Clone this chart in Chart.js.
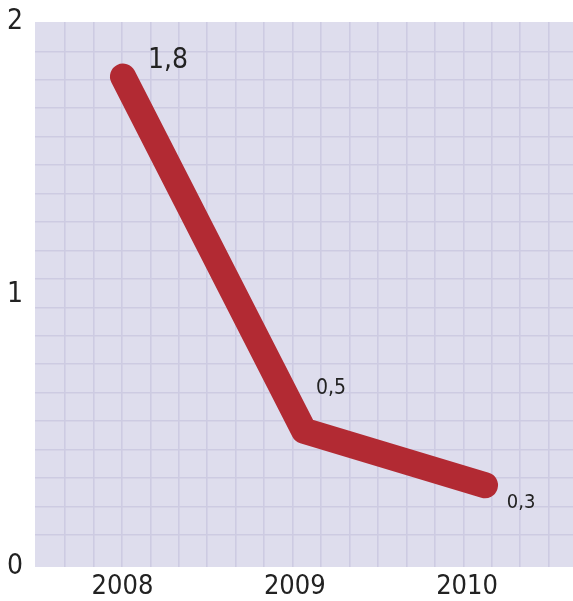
<!DOCTYPE html>
<html>
<head>
<meta charset="utf-8">
<style>
  html, body { margin: 0; padding: 0; background: #ffffff; }
  canvas { display: block; }
</style>
<script src="https://cdn.jsdelivr.net/npm/chart.js@4/dist/chart.umd.min.js"></script>
</head>
<body>
<canvas id="chart" width="573" height="601"></canvas>
<script>
// Data
const years = [2008, 2009, 2010];
const values = [1.8, 0.5, 0.3];
const yTickValues = [0, 1, 2];

// Styling
const FONT = "'Liberation Sans Narrow', 'DejaVu Sans Condensed', 'Roboto', sans-serif";
const TEXT = '#222222';
const LINE_RED = '#b22a33';
const PLOT_BG = '#dedded';
const GRID = '#cdcbe2';
const CELL = 28.45;             // size of one background grid cell, px
const labelOffsets = [[45, -16], [27, -42], [36, 18]];
const labelSizes = [28, 21, 20];

const plotBackground = {
  id: 'plotBackground',
  beforeDraw(chart) {
    const { ctx, chartArea: a } = chart;
    ctx.save();
    ctx.fillStyle = PLOT_BG;
    ctx.fillRect(a.left, a.top, a.right - a.left, a.bottom - a.top);
    ctx.restore();
  }
};

const valueLabels = {
  id: 'valueLabels',
  afterDatasetsDraw(chart) {
    const { ctx } = chart;
    const meta = chart.getDatasetMeta(0);
    ctx.save();
    ctx.fillStyle = TEXT;
    ctx.textAlign = 'center';
    ctx.textBaseline = 'middle';
    meta.data.forEach((pt, i) => {
      ctx.font = labelSizes[i] + 'px ' + FONT;
      const txt = String(values[i]).replace('.', ',');
      ctx.fillText(txt, pt.x + labelOffsets[i][0], pt.y + labelOffsets[i][1]);
    });
    ctx.restore();
  }
};

const keepInner = (lo, hi) => (axis) => {
  axis.ticks = axis.ticks.filter(t => Number.isInteger(Math.round(t.value * 1000) / 1000) &&
    t.value > lo && t.value < hi);
};

// drop the extra room Chart.js reserves for the outermost tick labels
const noEdgePadding = (axis) => {
  axis.paddingTop = 0; axis.paddingBottom = 0;
  axis.paddingLeft = 0; axis.paddingRight = 0;
};

new Chart(document.getElementById('chart'), {
  type: 'line',
  data: {
    datasets: [{
      data: years.map((yr, i) => ({ x: yr, y: values[i] })),
      borderColor: LINE_RED,
      borderWidth: 26,
      borderCapStyle: 'round',
      borderJoinStyle: 'round',
      pointRadius: 0,
      pointHoverRadius: 0,
      tension: 0,
      fill: false,
      xAxisID: 'x',
      yAxisID: 'y'
    }]
  },
  options: {
    responsive: false,
    devicePixelRatio: 1,
    animation: false,
    events: [],
    layout: { padding: { top: 22, right: 0, left: 0, bottom: 0 } },
    plugins: { legend: { display: false }, tooltip: { enabled: false } },
    scales: {
      x: {
        type: 'linear',
        display: false,
        min: 2007.514,
        max: 2010.486
      },
      xl: {
        type: 'linear',
        position: 'bottom',
        min: 2007.492,
        max: 2010.615,
        grid: { display: false, drawTicks: false },
        border: { display: false },
        afterBuildTicks: (axis) => { axis.ticks = years.map(v => ({ value: v })); },
        afterFit: (axis) => { axis.height = 34; noEdgePadding(axis); },
        ticks: {
          padding: 4,
          maxRotation: 0,
          color: TEXT,
          font: { family: FONT, size: 27 },
          callback: (v) => String(v)
        }
      },
      y: {
        type: 'linear',
        position: 'left',
        min: 0,
        max: 2,
        grid: { display: false, drawTicks: false },
        border: { display: false },
        afterBuildTicks: (axis) => { axis.ticks = yTickValues.map(v => ({ value: v })); },
        afterFit: (axis) => { axis.width = 35; noEdgePadding(axis); },
        ticks: {
          padding: 12,
          color: TEXT,
          font: { family: FONT, size: 28 },
          callback: (v) => String(v)
        }
      },
      gx: {
        type: 'linear',
        position: 'top',
        min: 1 - 30 / CELL,
        max: 1 - 30 / CELL + 538 / CELL,
        ticks: { display: false, stepSize: 1, includeBounds: false },
        grid: { color: GRID, lineWidth: 1.6, drawTicks: false },
        border: { display: false },
        afterBuildTicks: keepInner(0.5, 18.5),
        afterFit: (axis) => { axis.height = 0; noEdgePadding(axis); }
      },
      gy: {
        type: 'linear',
        position: 'right',
        min: -0.126,
        max: -0.126 + 545 / CELL,
        ticks: { display: false, stepSize: 1, includeBounds: false },
        grid: { color: GRID, lineWidth: 1.6, drawTicks: false },
        border: { display: false },
        afterBuildTicks: keepInner(0.5, 18.5),
        afterFit: (axis) => { axis.width = 0; noEdgePadding(axis); }
      }
    }
  },
  plugins: [plotBackground, valueLabels]
});
</script>
</body>
</html>
